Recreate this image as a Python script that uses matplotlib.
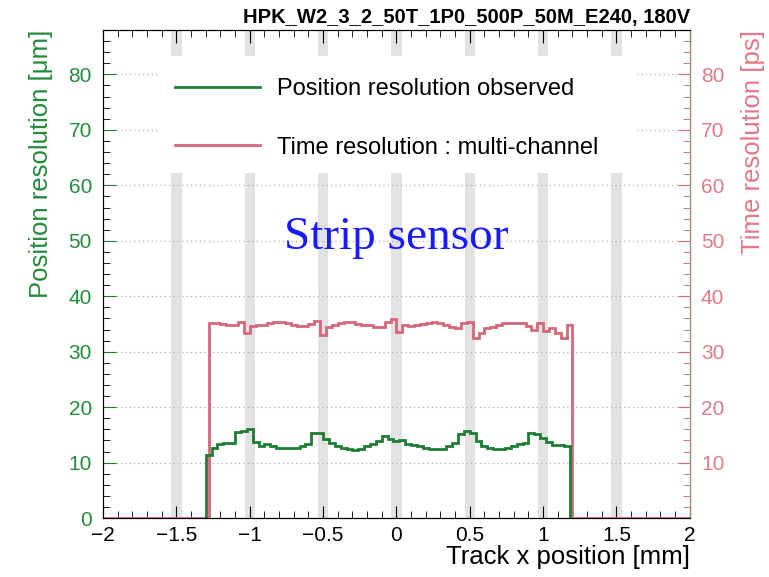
import numpy as np
import matplotlib.pyplot as plt
from matplotlib.patches import Rectangle
from matplotlib.ticker import MultipleLocator

plt.rcParams['font.family'] = ['Liberation Sans', 'DejaVu Sans']

# time resolution (multi-channel) per 0.04 mm bin, from -1.28 to 1.20 mm
time_lo = -1.28
time_res = [35.2, 35.1, 35.0, 34.9, 34.8, 35.3, 33.3, 34.7, 34.8, 34.9,
            35.1, 35.4, 35.4, 35.2, 34.8, 34.6, 34.7, 35.0, 35.6, 33.1,
            34.4, 34.9, 35.2, 35.4, 35.4, 35.0, 34.9, 34.8, 34.4, 34.4,
            35.4, 35.9, 33.5, 34.8, 34.7, 34.8, 35.0, 35.1, 35.3, 35.1,
            34.8, 34.5, 34.3, 35.1, 35.4, 32.5, 33.3, 34.2, 34.5, 34.8,
            35.1, 35.2, 35.2, 35.1, 34.7, 33.9, 35.1, 33.7, 34.2, 33.3,
            32.5, 34.9]

# observed position resolution per 0.04 mm bin, from -1.30 to 1.18 mm
pos_lo = -1.30
pos_res = [11.3, 12.7, 13.3, 13.6, 13.6, 15.5, 15.7, 16.0, 13.7, 13.0,
           13.3, 13.0, 12.7, 12.6, 12.6, 12.7, 13.0, 13.3, 15.3, 15.3,
           14.2, 13.5, 13.0, 12.7, 12.4, 12.3, 12.5, 13.0, 13.3, 13.9,
           14.8, 14.2, 13.9, 14.1, 13.3, 13.1, 13.0, 12.7, 12.4, 12.4,
           12.5, 13.0, 13.6, 15.1, 15.7, 15.4, 13.9, 13.0, 12.6, 12.4,
           12.4, 12.7, 13.0, 13.3, 13.6, 15.3, 15.1, 14.5, 13.7, 13.1,
           13.1, 13.0]

bin_w = 0.04
strip_centers = [-1.5, -1.0, -0.5, 0.0, 0.5, 1.0, 1.5]

green = '#1e7d34'
pink = '#d4677a'
green_txt = '#238b3c'
pink_txt = '#e07a88'

# pad the time histogram with empty bins over the full -2..2 range
n_left = int(round((time_lo + 2) / bin_w))
n_right = int(round(4 / bin_w)) - n_left - len(time_res)
t_vals = np.concatenate([np.zeros(n_left), time_res, np.zeros(n_right)])
t_edges = -2 + bin_w * np.arange(len(t_vals) + 1)
p_edges = pos_lo + bin_w * np.arange(len(pos_res) + 1)

fig = plt.figure(figsize=(7.69, 5.77), dpi=100)
ax = fig.add_axes([0.134, 0.102, 0.763, 0.846])
ax.set_xlim(-2, 2)
ax.set_ylim(0, 88)

for xc in strip_centers:
    ax.axvspan(xc - 0.035, xc + 0.035, color='#e2e2e2', lw=0, zorder=0)
for yv in range(10, 90, 10):
    ax.axhline(yv, color='#b0b0b0', ls=(0, (1, 2.5)), lw=0.9, zorder=1)

# legend background
ax.add_patch(Rectangle((-1.62, 62.2), 3.24, 21.2, facecolor='white', edgecolor='none', zorder=2))

ax.stairs(t_vals, t_edges, color=pink, lw=2, zorder=4, label='Time resolution : multi-channel')
ax.stairs(pos_res, p_edges, baseline=0, color=green, lw=2, zorder=5, label='Position resolution observed')

h, l = ax.get_legend_handles_labels()
leg = ax.legend(h[::-1], l[::-1], loc='center left', bbox_to_anchor=(0.087, 0.819), frameon=False,
                fontsize=17, handlelength=3.6, handletextpad=0.7, labelspacing=1.55)
leg.set_zorder(6)

ax.xaxis.set_major_locator(MultipleLocator(0.5))
ax.xaxis.set_minor_locator(MultipleLocator(0.1))
ax.yaxis.set_major_locator(MultipleLocator(10))
ax.yaxis.set_minor_locator(MultipleLocator(2))
ax.tick_params(which='both', direction='in', top=True, labelsize=15)
ax.tick_params(which='major', length=9)
ax.tick_params(which='minor', length=5)
ax.tick_params(axis='x', pad=6)
ax.tick_params(axis='y', colors=green, labelcolor=green_txt, pad=8)
ax.spines['left'].set_color(green)
ax.set_xticks([-2, -1.5, -1, -0.5, 0, 0.5, 1, 1.5, 2])
ax.set_xticklabels(['\u22122', '\u22121.5', '\u22121', '\u22120.5', '0', '0.5', '1', '1.5', '2'])

ax2 = ax.twinx()
ax2.set_ylim(0, 88)
ax2.yaxis.set_minor_locator(MultipleLocator(2))
ax2.set_yticks(range(10, 90, 10))
ax2.tick_params(which='both', direction='in', colors=pink, labelcolor=pink_txt, labelsize=15, pad=8)
ax2.tick_params(which='major', length=9)
ax2.tick_params(which='minor', length=5)
ax2.spines['right'].set_color('#9a8a70')

ax.set_ylabel('Position resolution [\u03bcm]', color=green_txt, fontsize=18.5, loc='top', labelpad=11)
ax2.set_ylabel('Time resolution [ps]', color=pink_txt, fontsize=18.5, loc='top', labelpad=12)
ax.set_xlabel('Track x position [mm]', fontsize=18.5, loc='right', labelpad=0)

ax.text(0, 50.5, 'Strip sensor', color='#1a1aff', fontsize=34, family='Liberation Serif',
        ha='center', va='center', zorder=6)
fig.text(0.897, 0.9705, 'HPK_W2_3_2_50T_1P0_500P_50M_E240, 180V', ha='right', va='center',
         fontsize=14.5, fontweight='bold')

fig.savefig('out.png', dpi=100)
